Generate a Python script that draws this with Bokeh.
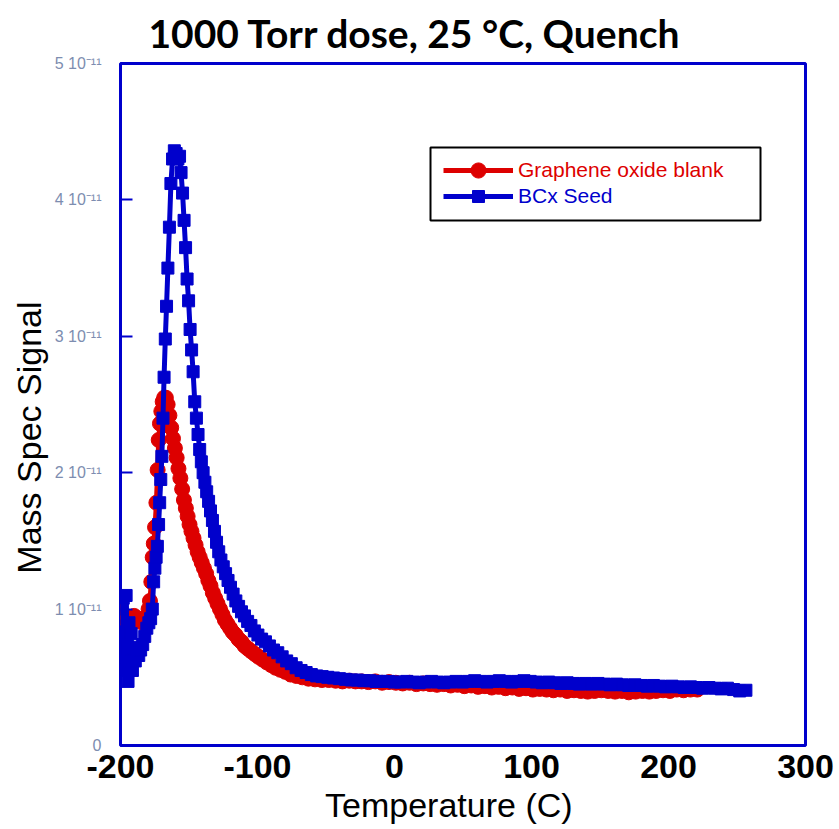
from bokeh.plotting import figure
from bokeh.models import (Legend, LegendItem, BoxAnnotation, FixedTicker, Title)
from bokeh.embed import file_html
from bokeh.resources import INLINE

# ---------------- data (signal in units of 1e-11) ----------------
go_temp = [
    -199, -196, -193, -190, -187, -184, -181.5, -179.5,
    -178.5, -177.5, -176.5, -175.7, -174.8, -173.8, -172.9, -172.1, -171.2, -170.2,
    -169.2, -168.1, -166.9, -165.6, -164.3, -163.0, -161.7, -160.3, -159.0, -157.7,
    -156.3, -155.0, -153.7, -152.3, -151.0, -149.6, -148.2, -146.7, -145.2, -143.7,
    -142.2, -140.7, -139.1, -137.5, -135.9, -134.3, -132.6, -130.9, -129.2, -127.4,
    -125.6, -123.8, -121.9, -120.0, -118.0, -116.0, -113.9, -111.7, -109.4, -107.0,
    -104.5, -101.9, -99.2, -96.3, -93.3, -90.1, -86.8, -83.3, -79.6, -75.7,
    -71.6, -67.3, -62.8, -58.0, -53.0, -48.0, -43.0, -38.0, -33.0, -28.5,
    -24, -19, -14, -9, -4, 1, 6, 11, 16, 21,
    26, 31, 36, 41, 46, 51, 56, 61, 66, 71,
    76, 81, 86, 91, 96, 101, 106, 111, 116, 121,
    126, 131, 136, 141, 146, 151, 156, 161, 166, 171,
    176, 181, 186, 191, 196, 201, 206, 211, 216, 221,
]
go_signal = [
    0.98, 0.92, 0.88, 0.95, 0.93, 0.90, 0.92, 1.00,
    1.06, 1.20, 1.38, 1.48, 1.60, 1.78, 2.02, 2.24, 2.36, 2.45,
    2.52, 2.55, 2.55, 2.50, 2.42, 2.33, 2.25, 2.18, 2.11, 2.03,
    1.96, 1.88, 1.80, 1.74, 1.68, 1.62, 1.57, 1.52, 1.47, 1.42,
    1.38, 1.34, 1.30, 1.26, 1.21, 1.17, 1.12, 1.08, 1.04, 1.00,
    0.96, 0.92, 0.89, 0.86, 0.83, 0.81, 0.78, 0.76, 0.73, 0.71,
    0.69, 0.67, 0.65, 0.63, 0.61, 0.59, 0.57, 0.555, 0.54, 0.52,
    0.51, 0.50, 0.49, 0.485, 0.48, 0.48, 0.475, 0.47, 0.475, 0.47,
    0.47, 0.465, 0.47, 0.46, 0.465, 0.46, 0.455, 0.46, 0.45, 0.455,
    0.45, 0.445, 0.45, 0.44, 0.445, 0.435, 0.44, 0.43, 0.435, 0.425,
    0.43, 0.42, 0.425, 0.415, 0.42, 0.41, 0.415, 0.41, 0.405, 0.41,
    0.40, 0.405, 0.40, 0.395, 0.40, 0.405, 0.40, 0.395, 0.40, 0.39,
    0.395, 0.40, 0.395, 0.40, 0.405, 0.40, 0.41, 0.405, 0.41, 0.41,
]

bcx_temp = [
    -199.5, -198.8, -198.0, -197.3, -196.6, -195.9, -195.2, -194.5, -193.8, -193.0,
    -192.2, -191.3, -190.3, -189.2, -188.0, -186.7, -185.3, -183.8, -182.3, -180.8,
    -179.3, -178.0, -176.8, -175.8, -174.9, -174.0, -173.1, -172.2, -171.4, -170.6,
    -169.8, -169.0, -168.2, -167.3, -166.4, -165.4, -164.3, -163.2, -162.0, -160.7,
    -159.4, -158.1, -156.9, -155.8, -154.7, -153.6, -152.5, -151.4, -150.3, -149.2,
    -148.1, -147.0, -145.8, -144.6, -143.4, -142.2, -141.0, -139.7, -138.4, -137.1,
    -135.7, -134.3, -132.9, -131.4, -129.9, -128.3, -126.7, -125.0, -123.3, -121.5,
    -119.7, -117.8, -115.8, -113.8, -111.7, -109.5, -107.2, -104.8, -102.3, -99.7,
    -97.0, -94.2, -91.3, -88.3, -85.2, -82.0, -78.7, -75.3, -71.8, -68.2,
    -64.5, -60.7, -56.8, -52.8, -48.7, -44.5, -40.2, -35.8, -31.4, -27.0,
    -22.5, -18.0, -13.5, -9.0, -4.5, 0.0, 4.5, 9.0, 13.5, 18.0,
    22.5, 27.0, 31.5, 36.0, 40.5, 45.0, 49.5, 54.0, 58.5, 63.0,
    67.5, 72.0, 76.5, 81.0, 85.5, 90.0, 94.5, 99.0, 103.5, 108.0,
    112.5, 117.0, 121.5, 126.0, 130.5, 135.0, 139.5, 144.0, 148.5, 153.0,
    157.5, 162.0, 166.5, 171.0, 175.5, 180.0, 184.5, 189.0, 193.5, 198.0,
    202.5, 207.0, 211.5, 216.0, 220.5, 225.0, 229.5, 234.0, 238.5, 243.0,
    247.5, 252.0, 256.5,
]
bcx_signal = [
    0.55, 1.00, 1.08, 0.55, 0.80, 1.10, 0.72, 0.47, 0.90, 0.62,
    0.82, 0.55, 0.72, 0.62, 0.68, 0.66, 0.70, 0.74, 0.80, 0.86,
    0.90, 0.93, 1.00, 1.20, 1.30, 1.38, 1.46, 1.62, 1.78, 1.95,
    2.12, 2.40, 2.70, 2.98, 3.22, 3.50, 3.80, 4.12, 4.30, 4.36,
    4.34, 4.30, 4.32, 4.20, 4.05, 3.85, 3.65, 3.42, 3.26, 3.05,
    2.90, 2.74, 2.52, 2.40, 2.28, 2.17, 2.08, 2.00, 1.93, 1.86,
    1.79, 1.72, 1.65, 1.57, 1.49, 1.42, 1.36, 1.31, 1.26, 1.21,
    1.16, 1.11, 1.06, 1.02, 0.98, 0.95, 0.91, 0.88, 0.84, 0.81,
    0.78, 0.76, 0.73, 0.70, 0.68, 0.65, 0.62, 0.60, 0.57, 0.55,
    0.535, 0.52, 0.51, 0.505, 0.50, 0.495, 0.49, 0.485, 0.48, 0.48,
    0.475, 0.475, 0.47, 0.47, 0.47, 0.465, 0.465, 0.47, 0.465, 0.46,
    0.465, 0.47, 0.465, 0.46, 0.465, 0.47, 0.465, 0.47, 0.475, 0.47,
    0.465, 0.47, 0.475, 0.47, 0.465, 0.47, 0.475, 0.47, 0.465, 0.46,
    0.465, 0.46, 0.455, 0.46, 0.455, 0.45, 0.455, 0.45, 0.455, 0.45,
    0.445, 0.45, 0.445, 0.44, 0.445, 0.44, 0.435, 0.44, 0.435, 0.43,
    0.435, 0.43, 0.425, 0.43, 0.425, 0.42, 0.425, 0.42, 0.415, 0.42,
    0.41, 0.40, 0.405,
]

x_ticks = [-200, -100, 0, 100, 200, 300]
x_tick_labels = ["-200", "-100", "0", "100", "200", "300"]
y_ticks = [0, 1, 2, 3, 4, 5]
y_tick_labels = ["0", "1 10\u207b\u00b9\u00b9", "2 10\u207b\u00b9\u00b9", "3 10\u207b\u00b9\u00b9",
                 "4 10\u207b\u00b9\u00b9", "5 10\u207b\u00b9\u00b9"]

RED = "#DD0000"
BLUE = "#0000CC"
NBSP = "\u00a0"

p = figure(width=839, height=829, x_range=(-200, 300), y_range=(0, 5),
           output_backend="svg", toolbar_location=None,
           min_border_left=120, min_border_right=34, min_border_top=63,
           min_border_bottom=84, title=None)
p.background_fill_color = "white"
p.border_fill_color = "white"
p.outline_line_color = BLUE
p.outline_line_width = 3
p.xgrid.visible = False
p.ygrid.visible = False

p.add_layout(Title(text="1000 Torr dose, 25 \u00b0C, Quench", align="left", offset=28,
                   text_font="Lato", text_font_size="39px", text_font_style="bold",
                   text_color="black", standoff=15), "above")

# x axis
xa = p.xaxis[0]
xa.ticker = FixedTicker(ticks=x_ticks)
xa.major_label_overrides = {t: s for t, s in zip(x_ticks, x_tick_labels)}
xa.axis_line_color = None
xa.major_tick_line_color = None
xa.minor_tick_line_color = None
xa.major_label_standoff = 3
xa.major_label_text_font = "Liberation Sans"
xa.major_label_text_font_size = "34px"
xa.major_label_text_font_style = "bold"
xa.major_label_text_color = "black"
xa.axis_label = "Temperature (C)" + NBSP * 3
xa.axis_label_standoff = 5
xa.axis_label_text_font = "Liberation Sans"
xa.axis_label_text_font_size = "34px"
xa.axis_label_text_font_style = "normal"
xa.axis_label_text_color = "black"

# y axis
ya = p.yaxis[0]
ya.ticker = FixedTicker(ticks=y_ticks)
ya.major_label_overrides = {t: s for t, s in zip(y_ticks, y_tick_labels)}
ya.axis_line_color = None
ya.major_tick_line_color = BLUE
ya.major_tick_line_width = 2
ya.major_tick_in = 12
ya.major_tick_out = 0
ya.minor_tick_line_color = None
ya.major_label_standoff = 19
ya.major_label_text_font = "Liberation Sans"
ya.major_label_text_font_size = "16px"
ya.major_label_text_color = "#7d8db0"
ya.axis_label = "Mass Spec Signal" + NBSP * 7
ya.axis_label_standoff = 4
ya.axis_label_text_font = "Liberation Sans"
ya.axis_label_text_font_size = "34px"
ya.axis_label_text_font_style = "normal"
ya.axis_label_text_color = "black"

# data
r_line = p.line(go_temp, go_signal, line_color=RED, line_width=5)
r_pts = p.scatter(go_temp, go_signal, marker="circle", size=15, fill_color=RED, line_color=RED)
b_line = p.line(bcx_temp, bcx_signal, line_color=BLUE, line_width=5)
b_pts = p.scatter(bcx_temp, bcx_signal, marker="square", size=12, fill_color=BLUE, line_color=BLUE)

# legend box
box = BoxAnnotation(left=310, right=640, bottom=525, top=598,
                    left_units="screen", right_units="screen",
                    bottom_units="screen", top_units="screen",
                    fill_alpha=0, line_color="black", line_width=2, line_alpha=1)
p.add_layout(box)

common = dict(border_line_color=None, background_fill_alpha=0, padding=0, margin=0,
              spacing=0, glyph_width=70, label_standoff=5,
              label_text_font="Liberation Sans", label_text_font_size="21px")
leg_r = Legend(items=[LegendItem(label="Graphene oxide blank", renderers=[r_line, r_pts])],
               location=(323, 556), label_text_color=RED, glyph_height=38, label_height=38,
               **common)
leg_b = Legend(items=[LegendItem(label="BCx Seed", renderers=[b_line, b_pts])],
               location=(323, 534), label_text_color=BLUE, glyph_height=30, label_height=30,
               **common)
p.add_layout(leg_r)
p.add_layout(leg_b)

open("out.html", "w").write(file_html(p, INLINE))
